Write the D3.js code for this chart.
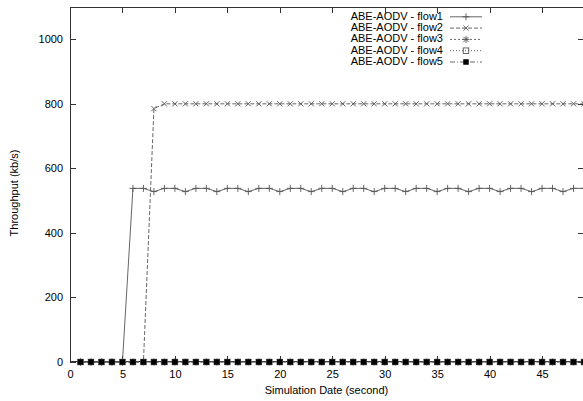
<!DOCTYPE html>
<html><head><meta charset="utf-8">
<script src="https://cdn.jsdelivr.net/npm/d3@7"></script>
<style>
body{margin:0;background:#fff}
svg{display:block}
text{font-family:"Liberation Sans",Arial,Helvetica,sans-serif;font-size:11px;fill:#000}
</style>
</head><body>
<svg id="c" width="583" height="401"></svg>
<script>
const xValues = [1,2,3,4,5,6,7,8,9,10,11,12,13,14,15,16,17,18,19,20,21,22,23,24,25,26,27,28,29,30,31,32,33,34,35,36,37,38,39,40,41,42,43,44,45,46,47,48,49];
const flow1 = [0,0,0,0,0,538,538,528,538,538,528,538,538,528,538,538,528,538,538,528,538,538,528,538,538,528,538,538,528,538,538,528,538,538,528,538,538,528,538,538,528,538,538,528,538,538,528,538,538];
const flow2 = [0,0,0,0,0,0,0,785,800,800,800,800,800,800,800,800,800,800,800,800,800,800,800,800,800,800,800,800,800,800,800,800,800,800,800,800,800,800,800,800,800,800,800,800,800,800,800,800,800];
const flow3 = [0,0,0,0,0,0,0,0,0,0,0,0,0,0,0,0,0,0,0,0,0,0,0,0,0,0,0,0,0,0,0,0,0,0,0,0,0,0,0,0,0,0,0,0,0,0,0,0,0];
const flow4 = [0,0,0,0,0,0,0,0,0,0,0,0,0,0,0,0,0,0,0,0,0,0,0,0,0,0,0,0,0,0,0,0,0,0,0,0,0,0,0,0,0,0,0,0,0,0,0,0,0];
const flow5 = [0,0,0,0,0,0,0,0,0,0,0,0,0,0,0,0,0,0,0,0,0,0,0,0,0,0,0,0,0,0,0,0,0,0,0,0,0,0,0,0,0,0,0,0,0,0,0,0,0];
const seriesNames = ["ABE-AODV - flow1","ABE-AODV - flow2","ABE-AODV - flow3","ABE-AODV - flow4","ABE-AODV - flow5"];
const xTicks = [0,5,10,15,20,25,30,35,40,45];
const yTicks = [0,200,400,600,800,1000];
const xTitle = "Simulation Date (second)";
const yTitle = "Throughput (kb/s)";

const series = [
  {name: seriesNames[0], values: flow1, dash: null,      marker: "plus"},
  {name: seriesNames[1], values: flow2, dash: "4,2",     marker: "cross"},
  {name: seriesNames[2], values: flow3, dash: "2,2",     marker: "star"},
  {name: seriesNames[3], values: flow4, dash: "1,2",     marker: "square"},
  {name: seriesNames[4], values: flow5, dash: "5,2,1,2", marker: "filled"}
];

const svg = d3.select("#c");
const x = d3.scaleLinear().domain([0, 49]).range([70, 584]);
const y = d3.scaleLinear().domain([0, 1100]).range([362, 7]);
const ink = "#333";
const lineInk = "#555";

function axisStyle(g){
  g.select(".domain").remove();
  g.selectAll(".tick line").attr("stroke", ink).attr("shape-rendering","crispEdges");
  g.selectAll(".tick text").attr("font-family",'"Liberation Sans",Arial,sans-serif').attr("font-size","11px").attr("fill","#000");
}
svg.append("g").attr("transform","translate(0,362)")
  .call(d3.axisBottom(x).tickValues(xTicks).tickSize(-6).tickPadding(8).tickFormat(d3.format("d"))).call(axisStyle);
svg.append("g").attr("transform","translate(0,7)")
  .call(d3.axisTop(x).tickValues(xTicks).tickSize(-6).tickFormat("")).call(axisStyle);
svg.append("g").attr("transform","translate(70,0)")
  .call(d3.axisLeft(y).tickValues(yTicks).tickSize(-6).tickPadding(7).tickFormat(d3.format("d"))).call(axisStyle);
svg.append("g").attr("transform","translate(584,0)")
  .call(d3.axisRight(y).tickValues(yTicks).tickSize(-6).tickFormat("")).call(axisStyle);

svg.append("rect").attr("x",70.5).attr("y",7.5).attr("width",513).attr("height",354)
  .attr("fill","none").attr("stroke",ink).attr("stroke-width",1).attr("shape-rendering","crispEdges");

function drawMarker(g, type, cx, cy){
  const s = 3.5;
  if (type === "plus" || type === "star") {
    g.append("path").attr("d",`M${cx-s},${cy}h${2*s}M${cx},${cy-s}v${2*s}`).attr("stroke",lineInk).attr("stroke-width",0.9).attr("fill","none");
  }
  if (type === "cross" || type === "star") {
    const t = 2.6;
    g.append("path").attr("d",`M${cx-t},${cy-t}L${cx+t},${cy+t}M${cx-t},${cy+t}L${cx+t},${cy-t}`).attr("stroke",lineInk).attr("stroke-width",0.9).attr("fill","none");
  }
  if (type === "square") {
    g.append("rect").attr("x",cx-2.75).attr("y",cy-2.75).attr("width",5.5).attr("height",5.5).attr("fill","none").attr("stroke",lineInk).attr("stroke-width",0.9);
  }
  if (type === "filled") {
    g.append("rect").attr("x",cx-2.75).attr("y",cy-2.75).attr("width",5.5).attr("height",5.5).attr("fill","#000");
  }
}

const line = d3.line().x((d,i)=>x(xValues[i])).y(d=>y(d));
series.forEach(s => {
  const g = svg.append("g");
  g.append("path").attr("d", line(s.values)).attr("fill","none").attr("stroke",lineInk)
    .attr("stroke-width",0.9).attr("stroke-dasharray", s.dash);
  s.values.forEach((v,i) => drawMarker(g, s.marker, x(xValues[i]), y(v)));
});

// legend
series.forEach((s,i) => {
  const ly = 16.8 + i*11.3;
  const g = svg.append("g");
  g.append("text").attr("x",443).attr("y",ly).attr("text-anchor","end").attr("dominant-baseline","middle").text(s.name);
  g.append("line").attr("x1",450).attr("x2",482).attr("y1",ly).attr("y2",ly)
    .attr("stroke",lineInk).attr("stroke-width",0.9).attr("stroke-dasharray", s.dash);
  drawMarker(g, s.marker, 466, ly);
});

svg.append("text").attr("x",326.5).attr("y",391).attr("text-anchor","middle").attr("dominant-baseline","middle").text(xTitle);
svg.append("text").attr("transform","translate(15,193) rotate(-90)").attr("text-anchor","middle").attr("dominant-baseline","middle").text(yTitle);
</script>
</body></html>
